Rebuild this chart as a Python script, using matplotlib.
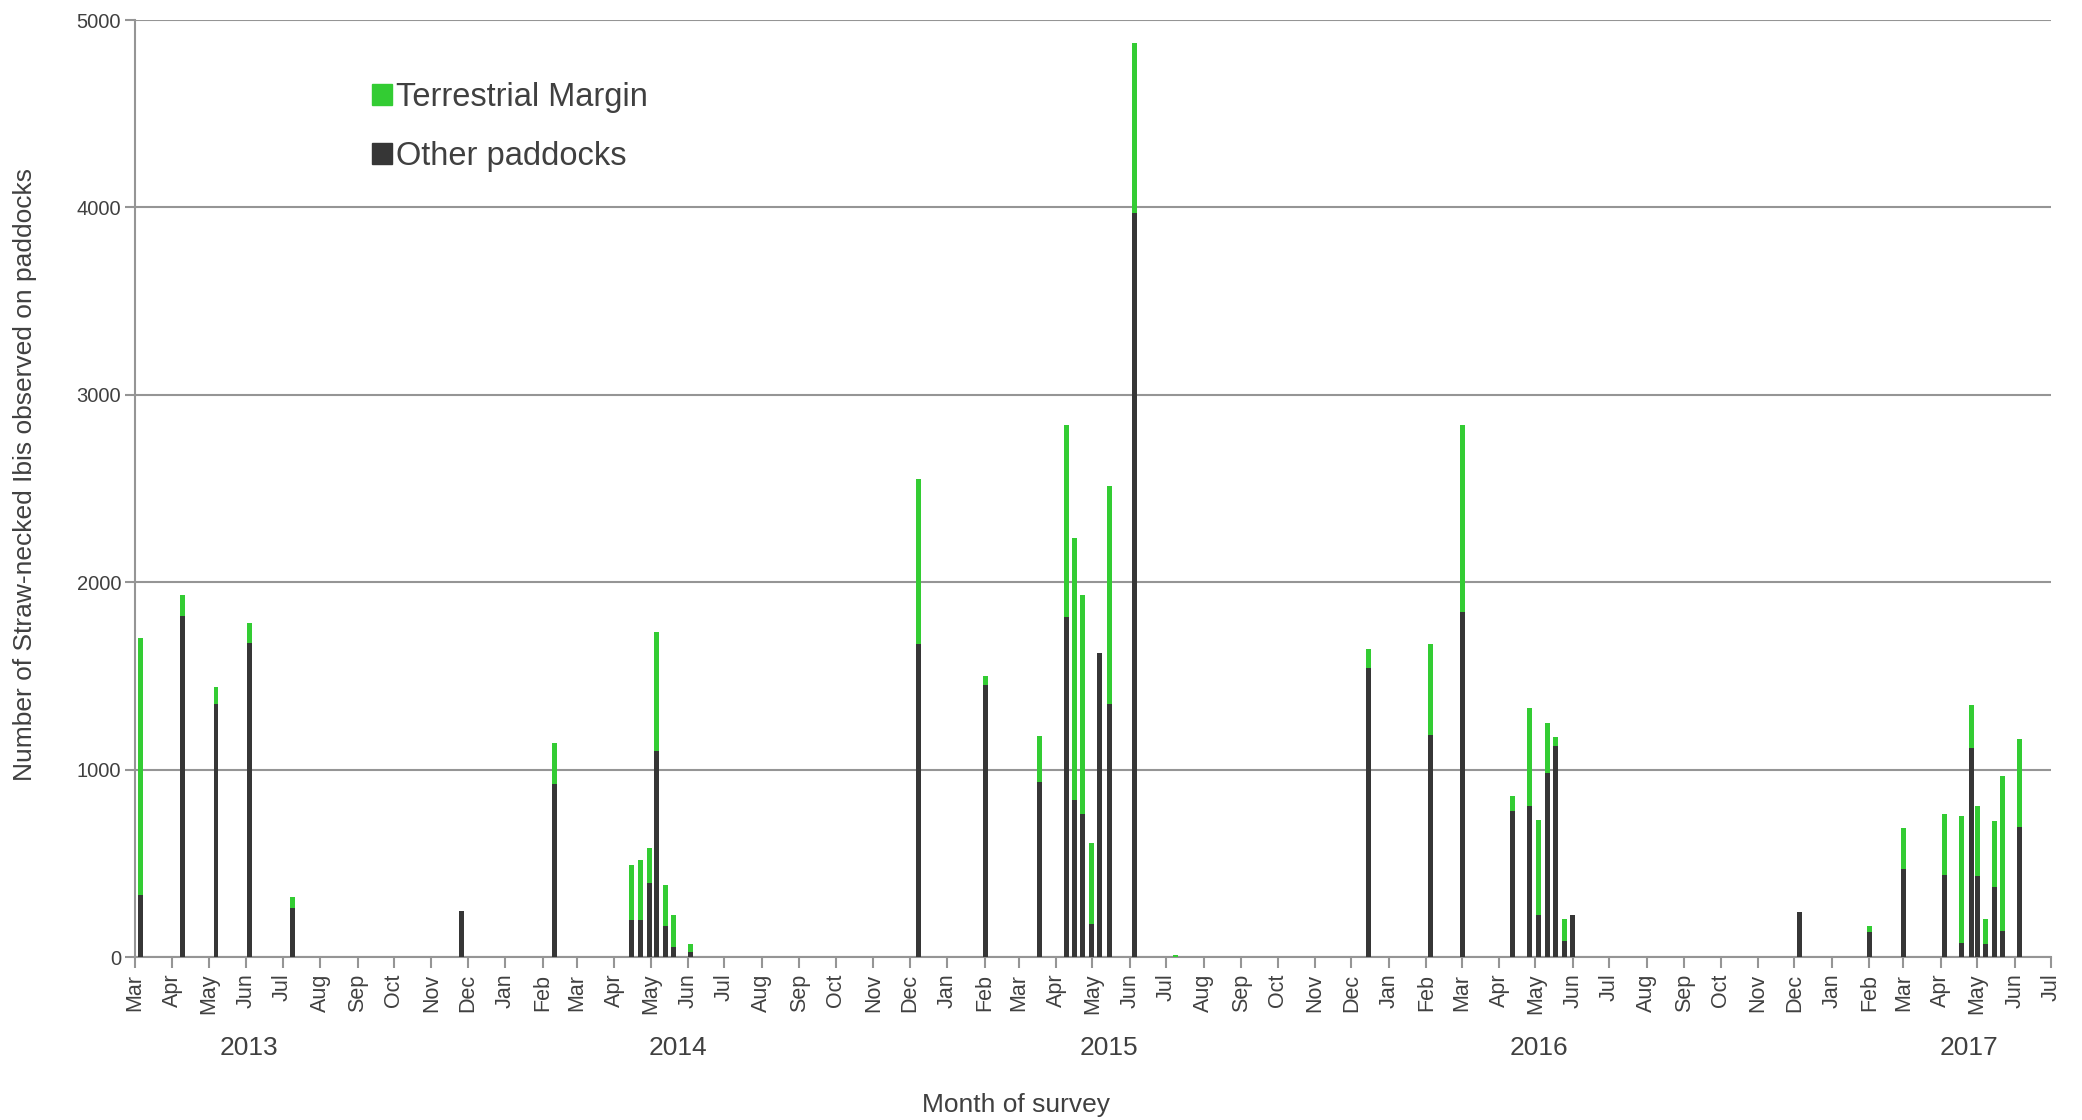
import numpy as np
import pandas as pd
import matplotlib
matplotlib.use("Agg")
import matplotlib.pyplot as plt
import matplotlib.dates as mdates
import matplotlib.transforms as mtrans
from matplotlib.patches import Patch

plt.rcParams['font.family'] = ['Liberation Sans', 'DejaVu Sans']

# survey dates and counts
survey_dates = ['2013-03-06', '2013-04-09', '2013-05-07', '2013-06-04', '2013-07-09',
                '2013-11-26', '2014-02-11', '2014-04-15', '2014-04-23', '2014-04-30',
                '2014-05-06', '2014-05-13', '2014-05-20', '2014-06-03', '2014-12-08',
                '2015-02-02', '2015-03-18', '2015-04-10', '2015-04-16', '2015-04-23',
                '2015-04-30', '2015-05-07', '2015-05-15', '2015-06-05', '2015-07-09',
                '2015-12-15', '2016-02-04', '2016-03-02', '2016-04-12', '2016-04-26',
                '2016-05-04', '2016-05-11', '2016-05-18', '2016-05-25', '2016-06-01',
                '2016-12-05', '2017-02-01', '2017-03-01', '2017-04-04', '2017-04-18',
                '2017-04-26', '2017-05-01', '2017-05-08', '2017-05-15', '2017-05-22',
                '2017-06-05']

other = [330, 1820, 1350, 1675, 260, 247, 925, 200, 195, 395,
         1100, 165, 55, 28, 1670, 1450, 935, 1815, 840, 765,
         175, 1623, 1350, 3970, 0, 1545, 1185, 1840, 777, 805,
         225, 980, 1128, 84, 226, 240, 135, 470, 440, 75,
         1115, 435, 70, 375, 137, 694]

terrestrial = [1370, 110, 90, 110, 60, 0, 215, 290, 325, 185,
               635, 220, 170, 42, 880, 50, 245, 1025, 1395, 1165,
               435, 0, 1165, 905, 12, 100, 485, 1000, 80, 525,
               505, 270, 45, 120, 0, 0, 30, 218, 325, 675,
               230, 370, 133, 350, 827, 471]

years = ['2013', '2014', '2015', '2016', '2017']
year_pos = ['2013-06-03', '2014-05-24', '2015-05-15', '2016-05-04', '2017-04-24']

GREEN = '#33cc33'
DARK = '#363636'
GRID = '#959595'
TEXT = '#404040'

dates = pd.to_datetime(survey_dates)
other = np.array(other)
terrestrial = np.array(terrestrial)

fig = plt.figure(figsize=(20.82, 11.2), dpi=100)
ax = fig.add_axes([0.0648, 0.1455, 0.9203, 0.8366])

w = 4.1  # days
ax.bar(dates, other, width=w, color=DARK, zorder=3)
ax.bar(dates, terrestrial, width=w, bottom=other, color=GREEN, zorder=3)

ax.set_xlim(pd.Timestamp('2013-03-01'), pd.Timestamp('2017-07-01'))
ax.set_ylim(0, 5000)
ax.set_yticks(range(0, 5001, 1000))
ax.yaxis.grid(True, color=GRID, linewidth=1.5, zorder=0)

ax.xaxis.set_major_locator(mdates.MonthLocator())
ax.xaxis.set_major_formatter(mdates.DateFormatter('%b'))
ax.tick_params(axis='x', rotation=90, labelsize=15.5, colors=GRID, labelcolor=TEXT,
               length=8, width=1.5, pad=4)
ax.tick_params(axis='y', labelsize=14.5, colors=GRID, labelcolor=TEXT,
               length=7, width=1.5, pad=3)
for lab in ax.get_xticklabels():
    lab.set_horizontalalignment('center')

for s in ['top', 'right']:
    ax.spines[s].set_visible(False)
for s in ['left', 'bottom']:
    ax.spines[s].set_color(GRID)
    ax.spines[s].set_linewidth(1.5)

trans = mtrans.blended_transform_factory(ax.transData, ax.transAxes)
for y, p in zip(years, year_pos):
    ax.text(pd.Timestamp(p), -0.097, y, transform=trans, ha='center', va='center',
            fontsize=19, color=TEXT)

ax.text(0.46, -0.158, 'Month of survey', transform=ax.transAxes, ha='center',
        va='center', fontsize=19, color=TEXT)
ax.set_ylabel('Number of Straw-necked Ibis observed on paddocks', fontsize=19, color=TEXT)
ax.yaxis.set_label_coords(-0.051, 0.515)

handles = [Patch(color=GREEN, label='Terrestrial Margin'),
           Patch(color=DARK, label='Other paddocks')]
ax.legend(handles=handles, loc='upper left', bbox_to_anchor=(0.115, 0.951),
          frameon=False, fontsize=23.5, handlelength=0.62, handleheight=0.62,
          handletextpad=0.14, labelspacing=0.85, borderpad=0, labelcolor=TEXT)

fig.savefig('out.png', dpi=100)
